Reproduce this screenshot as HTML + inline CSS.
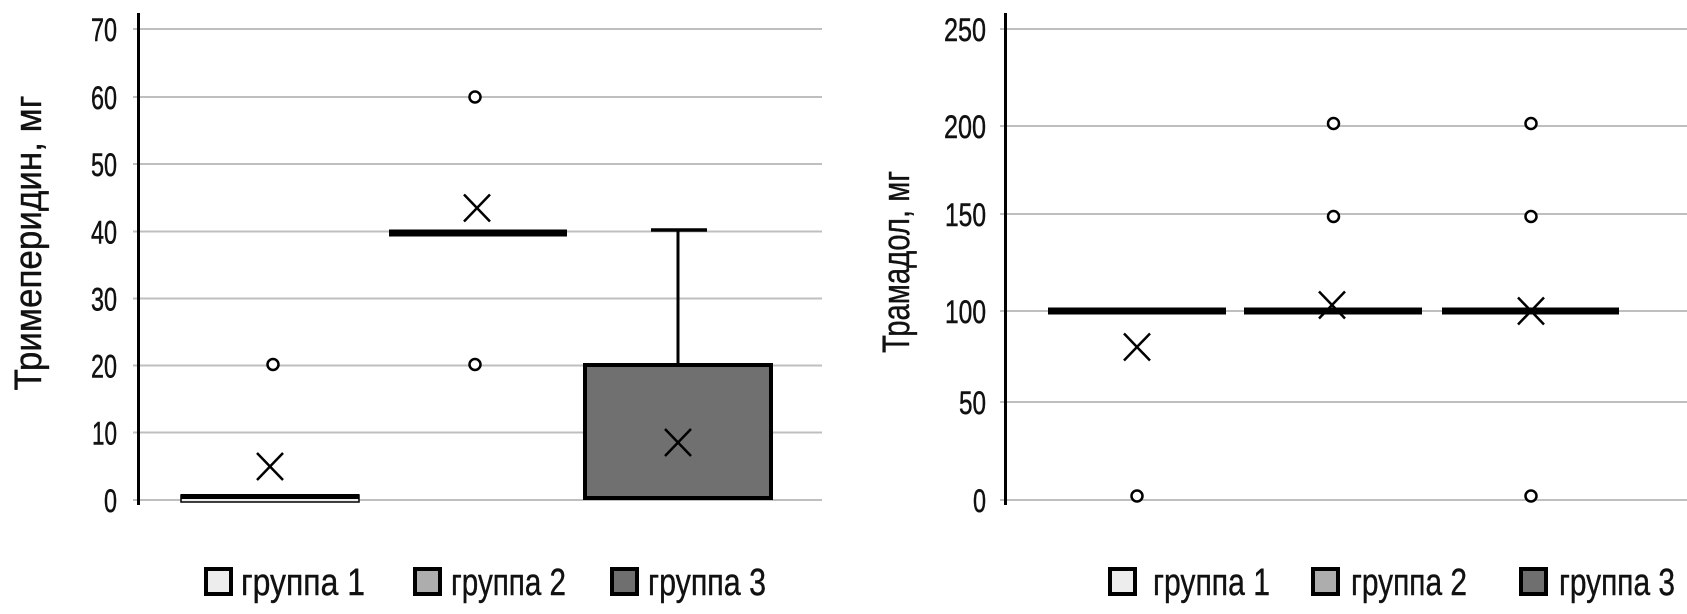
<!DOCTYPE html>
<html>
<head>
<meta charset="utf-8">
<style>
  html, body { margin:0; padding:0; background:#fff; }
  body { width:1687px; height:609px; overflow:hidden; }
  svg text { font-family: "Liberation Sans", "DejaVu Sans", sans-serif; fill:#111; }
</style>
</head>
<body>
<svg width="1687" height="609" viewBox="0 0 1687 609" xmlns="http://www.w3.org/2000/svg">
  <rect x="0" y="0" width="1687" height="609" fill="#fff"/>

  <!-- ================= LEFT CHART ================= -->
  <g stroke="#bfbfbf" stroke-width="2">
    <line x1="133" y1="29" x2="822" y2="29"/>
    <line x1="133" y1="97" x2="822" y2="97"/>
    <line x1="133" y1="164" x2="822" y2="164"/>
    <line x1="133" y1="231.5" x2="822" y2="231.5"/>
    <line x1="133" y1="298.5" x2="822" y2="298.5"/>
    <line x1="133" y1="365.5" x2="822" y2="365.5"/>
    <line x1="133" y1="432.5" x2="822" y2="432.5"/>
    <line x1="133" y1="500" x2="822" y2="500"/>
  </g>
  <line x1="138.5" y1="13" x2="138.5" y2="505" stroke="#000" stroke-width="3"/>

  <g font-size="32" text-anchor="end" stroke="#111" stroke-width="0.5">
    <text x="117" y="41" textLength="26" lengthAdjust="spacingAndGlyphs">70</text>
    <text x="117" y="109" textLength="26" lengthAdjust="spacingAndGlyphs">60</text>
    <text x="117" y="176" textLength="26" lengthAdjust="spacingAndGlyphs">50</text>
    <text x="117" y="243.5" textLength="26" lengthAdjust="spacingAndGlyphs">40</text>
    <text x="117" y="310.5" textLength="26" lengthAdjust="spacingAndGlyphs">30</text>
    <text x="117" y="377.5" textLength="26" lengthAdjust="spacingAndGlyphs">20</text>
    <text x="117" y="444.5" textLength="25" lengthAdjust="spacingAndGlyphs">10</text>
    <text x="117" y="512" textLength="13" lengthAdjust="spacingAndGlyphs">0</text>
  </g>

  <text transform="translate(41,243) rotate(-90)" font-size="38" text-anchor="middle" textLength="295" lengthAdjust="spacingAndGlyphs" stroke="#111" stroke-width="0.4">Тримеперидин, мг</text>

  <!-- group 1 -->
  <rect x="181" y="495" width="178" height="7" fill="#ededed" stroke="#000" stroke-width="1.5"/>
  <line x1="181" y1="496.5" x2="359" y2="496.5" stroke="#000" stroke-width="5"/>
  <circle cx="273" cy="364.5" r="5.5" fill="#fff" stroke="#000" stroke-width="2.5"/>
  <g stroke="#000" stroke-width="2.5">
    <line x1="257" y1="453" x2="283" y2="480"/>
    <line x1="283" y1="453" x2="257" y2="480"/>
  </g>

  <!-- group 2 -->
  <line x1="389" y1="233" x2="567" y2="233" stroke="#000" stroke-width="7"/>
  <circle cx="475" cy="97" r="5.5" fill="#fff" stroke="#000" stroke-width="2.5"/>
  <circle cx="475" cy="364.5" r="5.5" fill="#fff" stroke="#000" stroke-width="2.5"/>
  <g stroke="#000" stroke-width="2.5">
    <line x1="464" y1="194.5" x2="490" y2="221.5"/>
    <line x1="490" y1="194.5" x2="464" y2="221.5"/>
  </g>

  <!-- group 3 -->
  <line x1="678" y1="230" x2="678" y2="365" stroke="#000" stroke-width="3"/>
  <line x1="651" y1="230" x2="707" y2="230" stroke="#000" stroke-width="3.5"/>
  <rect x="585" y="365" width="186" height="133" fill="#707070" stroke="#000" stroke-width="4"/>
  <g stroke="#000" stroke-width="2.5">
    <line x1="665" y1="429" x2="691" y2="456"/>
    <line x1="691" y1="429" x2="665" y2="456"/>
  </g>

  <!-- left legend -->
  <g font-size="38">
    <rect x="206" y="569" width="25" height="25" fill="#ededed" stroke="#000" stroke-width="4"/>
    <text x="241" y="595" textLength="124" lengthAdjust="spacingAndGlyphs" stroke="#111" stroke-width="0.4">группа 1</text>
    <rect x="415" y="569" width="25" height="25" fill="#adadad" stroke="#000" stroke-width="4"/>
    <text x="451" y="595" textLength="115" lengthAdjust="spacingAndGlyphs" stroke="#111" stroke-width="0.4">группа 2</text>
    <rect x="612" y="569" width="25" height="25" fill="#6f6f6f" stroke="#000" stroke-width="4"/>
    <text x="648" y="595" textLength="118" lengthAdjust="spacingAndGlyphs" stroke="#111" stroke-width="0.4">группа 3</text>
  </g>

  <!-- ================= RIGHT CHART ================= -->
  <g stroke="#bfbfbf" stroke-width="2">
    <line x1="1000" y1="29" x2="1687" y2="29"/>
    <line x1="1000" y1="126" x2="1687" y2="126"/>
    <line x1="1000" y1="214" x2="1687" y2="214"/>
    <line x1="1000" y1="311" x2="1687" y2="311"/>
    <line x1="1000" y1="402" x2="1687" y2="402"/>
    <line x1="1000" y1="500" x2="1687" y2="500"/>
  </g>
  <line x1="1005.5" y1="13" x2="1005.5" y2="505" stroke="#000" stroke-width="3"/>

  <g font-size="32" text-anchor="end" stroke="#111" stroke-width="0.5">
    <text x="986" y="41" textLength="42" lengthAdjust="spacingAndGlyphs">250</text>
    <text x="986" y="138" textLength="42" lengthAdjust="spacingAndGlyphs">200</text>
    <text x="986" y="226" textLength="41" lengthAdjust="spacingAndGlyphs">150</text>
    <text x="986" y="323" textLength="41" lengthAdjust="spacingAndGlyphs">100</text>
    <text x="986" y="414" textLength="27" lengthAdjust="spacingAndGlyphs">50</text>
    <text x="986" y="512" textLength="13" lengthAdjust="spacingAndGlyphs">0</text>
  </g>

  <text transform="translate(909,262) rotate(-90)" font-size="38" text-anchor="middle" textLength="182" lengthAdjust="spacingAndGlyphs" stroke="#111" stroke-width="0.4">Трамадол, мг</text>

  <!-- medians -->
  <g stroke="#000" stroke-width="7">
    <line x1="1048" y1="311" x2="1226" y2="311"/>
    <line x1="1244" y1="311" x2="1422" y2="311"/>
    <line x1="1442" y1="311" x2="1619" y2="311"/>
  </g>

  <!-- outliers -->
  <g fill="#fff" stroke="#000" stroke-width="2.5">
    <circle cx="1137" cy="496" r="5.5"/>
    <circle cx="1333.5" cy="123.5" r="5.5"/>
    <circle cx="1333.5" cy="216.5" r="5.5"/>
    <circle cx="1531" cy="123.5" r="5.5"/>
    <circle cx="1531" cy="216.5" r="5.5"/>
    <circle cx="1531" cy="496" r="5.5"/>
  </g>

  <!-- means -->
  <g stroke="#000" stroke-width="2.5">
    <line x1="1124" y1="333.5" x2="1150" y2="360.5"/>
    <line x1="1150" y1="333.5" x2="1124" y2="360.5"/>
    <line x1="1319" y1="291.5" x2="1345" y2="318.5"/>
    <line x1="1345" y1="291.5" x2="1319" y2="318.5"/>
    <line x1="1518" y1="297.5" x2="1544" y2="324.5"/>
    <line x1="1544" y1="297.5" x2="1518" y2="324.5"/>
  </g>

  <!-- right legend -->
  <g font-size="38">
    <rect x="1110" y="569" width="25" height="25" fill="#ededed" stroke="#000" stroke-width="4"/>
    <text x="1153" y="595" textLength="117" lengthAdjust="spacingAndGlyphs" stroke="#111" stroke-width="0.4">группа 1</text>
    <rect x="1313" y="569" width="25" height="25" fill="#adadad" stroke="#000" stroke-width="4"/>
    <text x="1351" y="595" textLength="116" lengthAdjust="spacingAndGlyphs" stroke="#111" stroke-width="0.4">группа 2</text>
    <rect x="1521" y="569" width="25" height="25" fill="#6f6f6f" stroke="#000" stroke-width="4"/>
    <text x="1559" y="595" textLength="116" lengthAdjust="spacingAndGlyphs" stroke="#111" stroke-width="0.4">группа 3</text>
  </g>
</svg>
</body>
</html>
